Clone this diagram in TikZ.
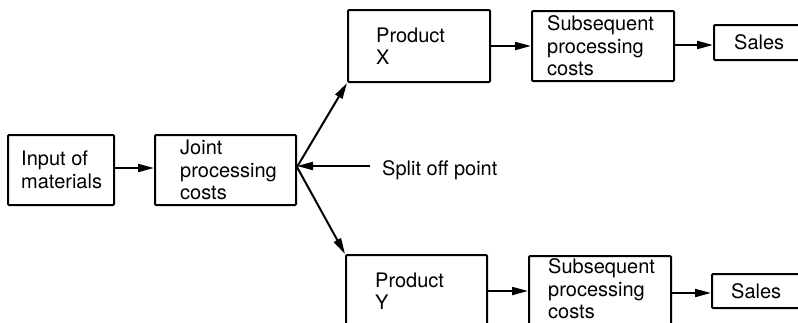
\documentclass[tikz,border=0pt]{standalone}
\usepackage{fontspec}
\setmainfont{TeX Gyre Heros}
\usetikzlibrary{arrows.meta}
\begin{document}
\begin{tikzpicture}[x=1pt,y=-1pt,
  box/.style={draw,line width=2pt,inner sep=0pt,anchor=north west,rounded corners=1pt},
  txt/.style={inner sep=0pt,align=left,anchor=west,font=\fontsize{20pt}{22.5pt}\selectfont},
  arr/.style={line width=2pt,-{Triangle[length=16pt,width=8pt]}}]
\useasboundingbox (0,0) rectangle (798,322);
\clip (0,0) rectangle (798,322);

% boxes
\node[box,minimum width=106pt,minimum height=70pt] (inp)    at (7,134)   {};
\node[box,minimum width=141pt,minimum height=70pt] (joint)  at (154,134) {};
\node[box,minimum width=142pt,minimum height=72pt] (px)     at (347,9)   {};
\node[box,minimum width=142pt,minimum height=70pt] (subx)   at (531,10)  {};
\node[box,minimum width=120pt,minimum height=35pt] (salesx) at (713,24)  {};
\node[box,minimum width=141pt,minimum height=72pt] (py)     at (345,254) {};
\node[box,minimum width=142pt,minimum height=70pt] (suby)   at (528,255) {};
\node[box,minimum width=120pt,minimum height=34pt] (salesy) at (711,273) {};

% box texts
\node[txt] (inpt)    at ([xshift=14pt]inp.west)    {Input of\\materials};
\node[txt] (jointt)  at ([xshift=26pt]joint.west)  {Joint\\processing\\costs};
\node[txt] (pxt)     at ([xshift=29pt]px.west)     {Product\\X};
\node[txt] (subxt)   at ([xshift=16pt]subx.west)   {Subsequent\\processing\\costs};
\node[txt] (salesxt) at ([xshift=21pt]salesx.west) {Sales};
\node[txt] (pyt)     at ([xshift=30pt]py.west)     {Product\\Y};
\node[txt] (subyt)   at ([xshift=20pt,yshift=2pt]suby.west) {Subsequent\\processing\\costs};
\node[txt] (salesyt) at ([xshift=20pt]salesy.west) {Sales};

% split-off label
\node[txt,anchor=base west] (split) at (382,175) {Split off point};
\coordinate (splitstart) at (370,166);

% connectors
\draw[arr] ([yshift=2pt]inp.east) -- ([yshift=2pt]joint.west);
\draw[arr] (splitstart) -- (splitstart -| joint.east);
\draw[arr] ([yshift=3pt]joint.east) -- (px.south west);
\draw[arr] ([yshift=3pt]joint.east) -- (py.north west);
\draw[arr] (px.east) -- (subx.west);
\draw[arr] ([yshift=1pt]subx.east) -- ([yshift=1pt]subx.east -| salesx.west);
\draw[arr] (py.east) -- (py.east -| suby.west);
\draw[arr] ([yshift=-2pt]suby.east) -- ([yshift=-2pt]suby.east -| salesy.west);
\end{tikzpicture}
\end{document}
